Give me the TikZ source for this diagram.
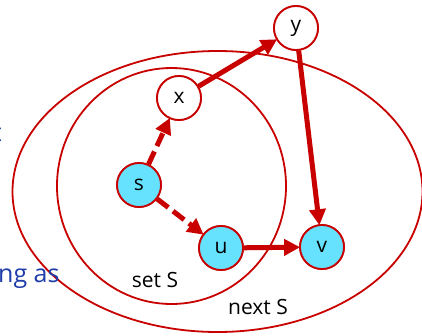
\documentclass[tikz,border=0pt]{standalone}
\usepackage{fontspec}
\setmainfont{Open Sans}
\usetikzlibrary{arrows.meta}
\definecolor{dred}{RGB}{200,0,0}
\definecolor{ncyan}{RGB}{102,226,255}
\definecolor{tblue}{RGB}{30,60,170}
\tikzset{
  vert/.style={circle, draw=dred, line width=1.8pt, minimum size=44pt, inner sep=0pt, font=\fontsize{21}{21}\selectfont},
  inset/.style={vert, fill=ncyan},
  outset/.style={vert, fill=white},
  region/.style={draw=dred, line width=1.8pt},
  edge/.style={draw=dred, line width=5pt, -{Triangle[length=16pt,width=16pt]}, shorten >=-1pt},
  dedge/.style={edge, dash pattern=on 14pt off 6pt},
  lbl/.style={font=\fontsize{21}{21}\selectfont, inner sep=0pt},
  blue/.style={font=\fontsize{25}{25}\selectfont, text=tblue, inner sep=0pt}
}
\begin{document}
\begin{tikzpicture}[x=1pt,y=-1pt]
\useasboundingbox (0,0) rectangle (422,335);
\clip (0,0) rectangle (422,335);
% regions
\draw[region] (217.5,191.5) ellipse [x radius=205, y radius=140.5];
\draw[region] (171.5,186) ellipse [x radius=114.5, y radius=118];
% nodes
\node[inset] (s) at (139,185) {s};
\node[inset] (u) at (221,248) {u};
\node[inset] (v) at (322,247) {v};
\node[outset] (x) at (179,98) {x};
\node[outset] (y) at (296,28) {y};
% edges
\draw[dedge] (s) -- (x);
\draw[dedge] (s) -- (u);
\draw[edge] (x) -- (y);
\draw[edge] (y) -- (v);
\draw[edge] (u) -- (v);
% redraw nodes on top
\node[inset] at (s) {s};
\node[inset] at (u) {u};
\node[inset] at (v) {v};
\node[outset] at (x) {x};
\node[outset] at (y) {y};
% labels
\node[lbl] (setS) at (155,280) {set S};
\node[lbl] (nextS) at (258,307) {next S};
\node[blue, anchor=base west] (ngas) at (-2,282) {ng as};
\node[blue, anchor=base east] (frag) at (1.8,141) {t};
\end{tikzpicture}
\end{document}
